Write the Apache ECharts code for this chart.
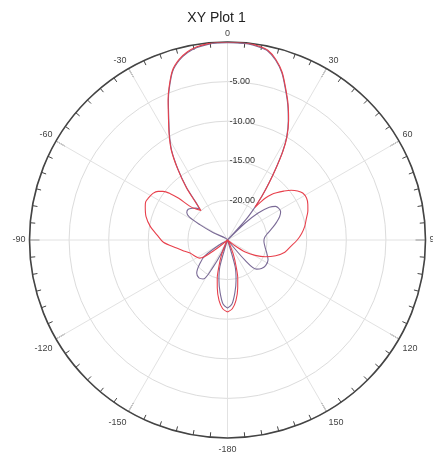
<!DOCTYPE html>
<html>
<head>
<meta charset="utf-8">
<script src="https://cdn.jsdelivr.net/npm/echarts@6/dist/echarts.min.js"></script>
<style>
html,body{margin:0;padding:0;background:#fff;}
#chart{width:433px;height:452px;}
</style>
</head>
<body>
<div id="chart"></div>
<script>
// Angle ticks (degrees, -180..180, 0 at top, clockwise)
var angleTicks = [0, 30, 60, 90, 120, 150, -180, -150, -120, -90, -60, -30];
// Radial ticks (dB)
var radiusTicks = [-25, -20, -15, -10, -5, 0];

// Series 1 (red)
var redAngles = [-180,-176,-172,-168,-165,-162,-158,-154,-150,-140,-134,-128,-123,-116,-109,-104,-99,-92,-86,-80,-74,-68,-65,-62,-58,-55,-53,-51,-49.5,-48,-45,-42,-40,-38,-35,-32,-29,-26,-23,-21,-18,-15,-12,-9,-6,-3,0,3,6,9,12,15,18,21,24,27,30,32,34,36,38,40,41,42,44,46,49,52,55,58,62,66,70,75,80,85,90,96,102,108,114,119,124,128,132,140,150,154,158,162,165,168,172,176,180];
var redValues = [-15.9,-16.3,-17.3,-18.8,-20,-21.5,-23,-24.5,-25,-25,-25,-23,-20.8,-20.4,-20,-19.3,-18.5,-16.9,-16.1,-15.1,-14.3,-13.8,-13.6,-13.7,-13.9,-14.3,-14.8,-15.7,-16.9,-18.7,-19.5,-20,-18.5,-16.5,-14,-11.6,-9.8,-8,-5.8,-4.4,-2.5,-1.4,-0.7,-0.3,-0.1,0,0,0,0,-0.2,-0.5,-1.4,-2.7,-4.5,-6.2,-8,-10,-11.8,-14,-16,-17.8,-19.6,-18.8,-17.9,-17,-16.4,-15.6,-14.8,-14.2,-13.8,-13.7,-13.9,-14.2,-14.7,-15.1,-15.6,-16.2,-17,-17.6,-18.6,-19.8,-21,-22.3,-24,-25,-25,-25,-24.5,-23,-21.5,-20,-18.8,-17.3,-16.3,-15.9];

// Series 2 (purple)
var purpleAngles = [-180,-176,-172,-168,-164,-160,-157,-155,-152,-148,-143,-137,-130,-125,-120,-117,-90,-66,-63,-61,-59,-56,-52,-48,-45,-42,-40,-38,-35,-32,-29,-26,-23,-21,-18,-15,-12,-9,-6,-3,0,3,6,9,12,15,18,21,24,27,30,32,34,36,38,40,42,44,46,48.5,52,55,58,62,66,70,74,80,86,92,100,108,116,124,130,135,139,143,160,164,168,172,176,180];
var purpleValues = [-16.4,-16.9,-18.3,-19.8,-21.5,-25,-25,-23,-21.2,-19.2,-19,-19.3,-20.5,-21.5,-24,-25,-25,-25,-23,-21,-19.4,-18.8,-18.7,-19,-19.3,-19.8,-18.8,-16.6,-14.1,-11.7,-9.9,-8.1,-5.9,-4.5,-2.6,-1.5,-0.8,-0.4,-0.2,-0.1,-0.1,-0.1,-0.1,-0.3,-0.6,-1.5,-2.8,-4.6,-6.3,-8.1,-10.1,-11.9,-14.1,-16.1,-17.9,-19.7,-21.5,-25,-22,-19.9,-18.3,-17.6,-17.4,-17.4,-17.8,-18.4,-19.0,-19.8,-20.3,-20.4,-20.2,-19.8,-19.3,-19.2,-19.4,-19.8,-21.6,-25,-25,-21.5,-19.8,-18.3,-16.9,-16.4];

function toPolar(angles, values) {
  var out = [];
  for (var i = 0; i < angles.length; i++) {
    var a = angles[i] < 0 ? angles[i] + 360 : angles[i];
    out.push([values[i], a]);
  }
  return out;
}

var FONT = 'Liberation Sans, Arial, sans-serif';
var chart = echarts.init(document.getElementById('chart'), null, {renderer: 'canvas'});
var option = {
  animation: false,
  backgroundColor: '#ffffff',
  title: {
    text: 'XY Plot 1',
    left: 'center',
    top: 6,
    textStyle: {fontSize: 14, fontWeight: 'normal', color: '#222', fontFamily: FONT}
  },
  polar: {center: [227.5, 240], radius: 198},
  angleAxis: {
    type: 'value',
    min: 0,
    max: 360,
    interval: 30,
    startAngle: 90,
    clockwise: true,
    axisLine: {show: true, lineStyle: {color: '#444', width: 1.6}},
    axisTick: {show: true, inside: true, length: 10, lineStyle: {color: '#444', width: 1}},
    minorTick: {show: true, splitNumber: 6, length: 5, lineStyle: {color: '#444', width: 1}},
    axisLabel: {
      show: true, margin: 4, fontSize: 9, color: '#444', fontFamily: FONT,
      padding: [3, 0, 0, 0],
      formatter: function (v) {
        if (v === 360) return '';
        var d = v > 180 ? v - 360 : (v === 180 ? -180 : v);
        return angleTicks.indexOf(d) >= 0 ? String(d) : '';
      }
    },
    splitLine: {show: true, lineStyle: {color: '#e2e2e2', width: 1}}
  },
  radiusAxis: {
    type: 'value',
    min: radiusTicks[0],
    max: radiusTicks[radiusTicks.length - 1],
    interval: 5,
    axisLine: {show: false},
    axisTick: {show: false},
    axisLabel: {
      show: true, fontSize: 9, color: '#333', fontFamily: FONT,
      align: 'left', margin: -2,
      formatter: function (v) {
        if (v === radiusTicks[0] || v === radiusTicks[radiusTicks.length - 1]) return '';
        return v.toFixed(2);
      }
    },
    splitLine: {show: true, lineStyle: {color: '#dcdcdc', width: 1}}
  },
  series: [
    {
      name: 'purple', type: 'line', coordinateSystem: 'polar',
      showSymbol: false, smooth: 0.3,
      lineStyle: {color: '#7a6a96', width: 1.1},
      data: toPolar(purpleAngles, purpleValues)
    },
    {
      name: 'red', type: 'line', coordinateSystem: 'polar',
      showSymbol: false, smooth: 0.3,
      lineStyle: {color: '#e8404c', width: 1.1},
      data: toPolar(redAngles, redValues)
    }
  ]
};
chart.setOption(option);
</script>
</body>
</html>
